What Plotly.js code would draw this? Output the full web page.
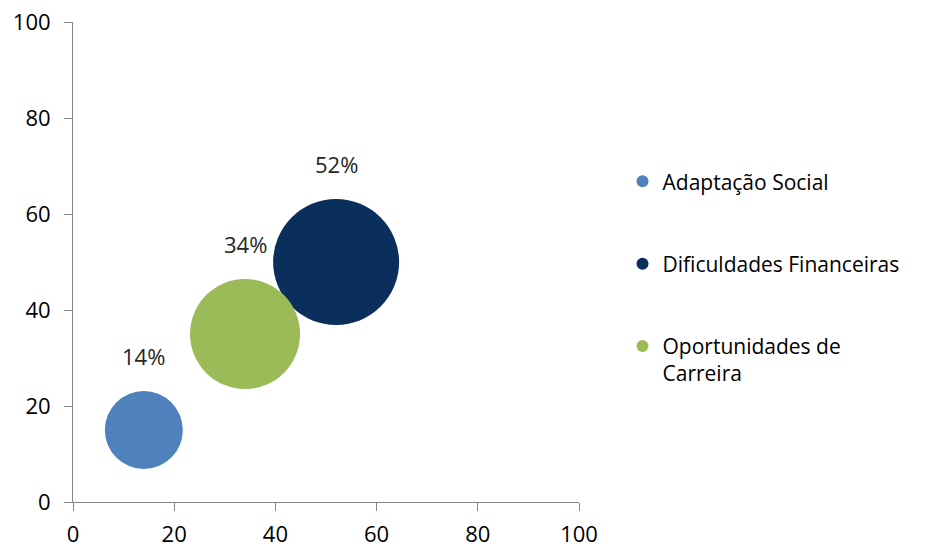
<!DOCTYPE html>
<html>
<head>
<meta charset="utf-8">
<script src="https://cdn.plot.ly/plotly-3.0.1.min.js"></script>
<style>html,body{margin:0;padding:0;background:#fff;}#chart{width:928px;height:548px;}</style>
</head>
<body>
<div id="chart"></div>
<script>
const seriesNames = ["Adaptação Social", "Dificuldades Financeiras", "Oportunidades de<br>Carreira"];
const xValues = [14, 52, 34];
const yValues = [15, 50, 35];
const bubbleSizes = [78, 126, 110];
const labels = ["14%", "52%", "34%"];
const tickVals = [0, 20, 40, 60, 80, 100];

const colors = ["#4F81BD", "#0B2F5C", "#9BBB59"];
const FONT = "'Open Sans', Lato, 'Liberation Sans', sans-serif";

const traces = seriesNames.map((n, i) => ({
  type: "scatter",
  mode: "markers",
  name: n,
  legendgroup: "g" + i,
  x: [xValues[i]],
  y: [yValues[i]],
  marker: {size: [bubbleSizes[i]], sizemode: "diameter", sizeref: 1, color: colors[i], opacity: 1, line: {width: 0}},
  hoverinfo: "skip"
}));

const annotations = labels.map((t, i) => ({
  x: xValues[i], y: yValues[i], xref: "x", yref: "y",
  text: t, showarrow: false,
  yshift: bubbleSizes[i] / 2 + 35,
  font: {family: FONT, size: 22, color: "#262626"}
}));

const axisCommon = {
  range: [0, 100],
  tickvals: tickVals,
  showgrid: false,
  zeroline: false,
  showline: true,
  linecolor: "#868686",
  linewidth: 1,
  ticks: "outside",
  ticklen: 8,
  tickcolor: "#868686",
  tickfont: {family: FONT, size: 22, color: "#000"},
  fixedrange: true
};

const layout = {
  width: 928, height: 548,
  margin: {l: 73, r: 349, t: 22, b: 46},
  paper_bgcolor: "#fff", plot_bgcolor: "#fff",
  xaxis: Object.assign({}, axisCommon, {ticklabelstandoff: 5}),
  yaxis: Object.assign({}, axisCommon, {ticklabelstandoff: 9}),
  showlegend: true,
  legend: {
    x: 1.086, xanchor: "left", y: 0.71, yanchor: "top",
    font: {family: FONT, size: 21, color: "#000"},
    itemsizing: "constant",
    traceorder: "grouped",
    tracegroupgap: 52,
    itemwidth: 30,
    valign: "top"
  },
  annotations: annotations
};

Plotly.newPlot("chart", traces, layout, {displayModeBar: false, staticPlot: true});
</script>
</body>
</html>
